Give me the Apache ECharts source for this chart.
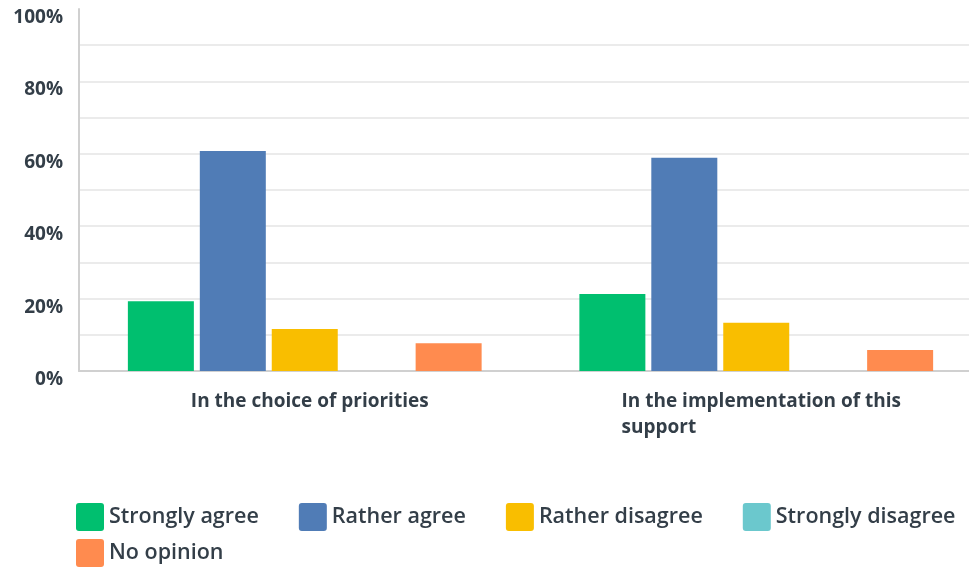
<!DOCTYPE html>
<html>
<head>
<meta charset="utf-8">
<script src="https://cdn.jsdelivr.net/npm/echarts@6/dist/echarts.min.js"></script>
<style>
  html, body { margin: 0; padding: 0; background: #ffffff; overflow: hidden; }
  #chart { width: 982px; height: 567px; }
</style>
</head>
<body>
<div id="chart"></div>
<script>
// Survey answers, in percent of respondents
const categories = ['In the choice of priorities', 'In the implementation of this support'];
const seriesNames = ['Strongly agree', 'Rather agree', 'Rather disagree', 'Strongly disagree', 'No opinion'];
const stronglyAgree = [19.3, 21.3];
const ratherAgree = [60.8, 58.9];
const ratherDisagree = [11.6, 13.3];
const stronglyDisagree = [0, 0];
const noOpinion = [7.7, 5.8];
const yTicks = [0, 20, 40, 60, 80, 100];

const seriesValues = [stronglyAgree, ratherAgree, ratherDisagree, stronglyDisagree, noOpinion];
const colors = ['#00BF6F', '#507CB6', '#F9BE00', '#6BC8CD', '#FF8B4F'];
const textColor = '#333E48';
const fontFamily = '"Open Sans", "Noto Sans", sans-serif';

// wrap a category name onto lines of at most maxChars characters
function wrap(text, maxChars) {
  const words = text.split(' ');
  const lines = [];
  let cur = '';
  words.forEach(w => {
    const next = cur ? cur + ' ' + w : w;
    if (next.length > maxChars && cur) { lines.push(cur); cur = w; }
    else cur = next;
  });
  if (cur) lines.push(cur);
  return lines;
}

const chart = echarts.init(document.getElementById('chart'), null, { renderer: 'canvas' });

const legendIcon = 'path://M3,0 H25 Q28,0 28,3 V25 Q28,28 25,28 H3 Q0,28 0,25 V3 Q0,0 3,0 Z';
const legendBase = {
  orient: 'horizontal',
  icon: legendIcon,
  itemWidth: 28,
  itemHeight: 28,
  itemGap: 40,
  padding: 0,
  textStyle: { color: textColor, fontSize: 21.5, fontWeight: 600, fontFamily: fontFamily, padding: [0, 0, 6, 0] },
  selectedMode: false
};

chart.setOption({
  animation: false,
  backgroundColor: '#ffffff',
  color: colors,
  // plot area runs slightly past the visible right edge
  grid: { left: 79, right: 0, top: 9, bottom: 196, containLabel: false },
  legend: [
    Object.assign({}, legendBase, { left: 76, top: 503, data: seriesNames.slice(0, 4) }),
    Object.assign({}, legendBase, { left: 76, top: 539, data: seriesNames.slice(4) })
  ],
  xAxis: {
    type: 'category',
    data: categories,
    axisLine: { show: true, lineStyle: { color: '#D0D0D0', width: 2 } },
    axisTick: { show: false },
    axisLabel: {
      interval: 0,
      margin: 18,
      color: textColor,
      fontSize: 19,
      fontWeight: 700,
      fontFamily: fontFamily,
      lineHeight: 26,
      padding: [0, 0, 0, 10],
      formatter: function (v) {
        return wrap(v, 30).map(l => '{l|' + l + '}').join('\n');
      },
      rich: {
        l: { align: 'left', color: textColor, fontSize: 19, fontWeight: 700, fontFamily: fontFamily, lineHeight: 26 }
      }
    }
  },
  yAxis: {
    type: 'value',
    min: 0,
    max: 100,
    interval: 10,
    axisLine: { show: true, lineStyle: { color: '#D0D0D0', width: 2 } },
    axisTick: { show: false },
    splitLine: { show: true, showMaxLine: false, lineStyle: { color: '#EBEBEB', width: 2 } },
    axisLabel: {
      margin: 16,
      color: textColor,
      fontSize: 19,
      fontWeight: 700,
      fontFamily: fontFamily,
      verticalAlign: 'top',
      lineHeight: 17,
      formatter: function (v) { return yTicks.indexOf(v) >= 0 ? v + '%' : ''; }
    }
  },
  series: seriesNames.map((name, i) => ({
    name: name,
    type: 'bar',
    data: seriesValues[i],
    barWidth: 66,
    barGap: '9%',
    itemStyle: { color: colors[i] }
  }))
});
</script>
</body>
</html>
